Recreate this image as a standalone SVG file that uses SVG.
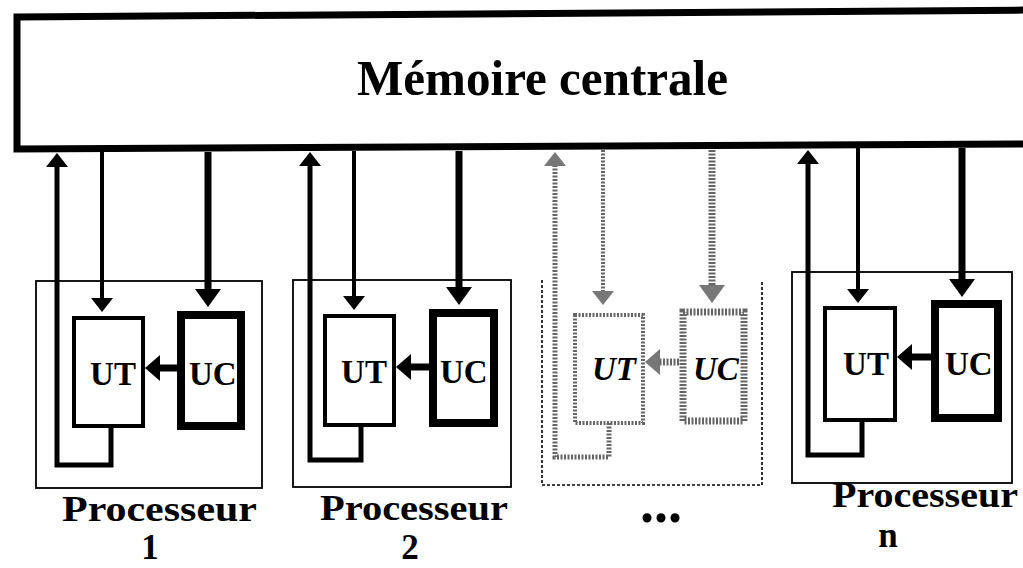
<svg xmlns="http://www.w3.org/2000/svg" width="1023" height="568" viewBox="0 0 1023 568">
<style>
.lbl{font-family:"Liberation Serif","Times New Roman",serif;font-weight:bold;fill:#000}
.unit{font-size:33px}
.proc{font-size:35px}
.outer{fill:none;stroke:#000;stroke-width:1.8}
.ut{fill:#fff;stroke:#000;stroke-width:4}
.uc{fill:#fff;stroke:#000;stroke-width:8}
.gut{fill:#fff;stroke:#666;stroke-width:4;stroke-dasharray:2 1.5}
.guc{fill:#fff;stroke:#666;stroke-width:7;stroke-dasharray:2 1.5}
.c{fill:none;stroke:#000;stroke-linejoin:miter}
.g{fill:none;stroke:#666;stroke-dasharray:2 1.5}
.w4{stroke-width:4}.w5{stroke-width:5}.w7{stroke-width:7}
</style>
<defs>
<marker id="a1" markerUnits="userSpaceOnUse" viewBox="0 0 14 22" markerWidth="14" markerHeight="22" refX="2" refY="11" orient="auto"><path d="M0,0 L14,11 L0,22 Z" fill="#000"/></marker>
<marker id="a2" markerUnits="userSpaceOnUse" viewBox="0 0 18 26" markerWidth="18" markerHeight="26" refX="2" refY="13" orient="auto"><path d="M0,0 L18,13 L0,26 Z" fill="#000"/></marker>
<marker id="a3" markerUnits="userSpaceOnUse" viewBox="0 0 15 26" markerWidth="15" markerHeight="26" refX="2" refY="13" orient="auto"><path d="M0,0 L15,13 L0,26 Z" fill="#000"/></marker>
<marker id="g1" markerUnits="userSpaceOnUse" viewBox="0 0 14 22" markerWidth="14" markerHeight="22" refX="2" refY="11" orient="auto"><path d="M0,0 L14,11 L0,22 Z" fill="#777"/></marker>
<marker id="g2" markerUnits="userSpaceOnUse" viewBox="0 0 18 26" markerWidth="18" markerHeight="26" refX="2" refY="13" orient="auto"><path d="M0,0 L18,13 L0,26 Z" fill="#777"/></marker>
<marker id="g3" markerUnits="userSpaceOnUse" viewBox="0 0 15 26" markerWidth="15" markerHeight="26" refX="2" refY="13" orient="auto"><path d="M0,0 L15,13 L0,26 Z" fill="#777"/></marker>
</defs>
<rect width="1023" height="568" fill="#fff"/>

<g id="memoire">
<path d="M17,17 L1040,10 L1040,144 L17,149 Z" fill="#fff" stroke="#000" stroke-width="7"/>
<text class="lbl" x="357" y="95" font-size="50" textLength="371" lengthAdjust="spacingAndGlyphs">Mémoire centrale</text>
</g>

<g id="processeur1">
<rect class="outer" x="36" y="281" width="226" height="207"/>
<rect class="ut" x="74" y="318" width="69" height="108"/>
<rect class="uc" x="181" y="315" width="60" height="111"/>
<text class="lbl unit" x="113" y="385" text-anchor="middle">UT</text>
<text class="lbl unit" x="189" y="385">UC</text>
<text class="lbl proc" x="62" y="521" textLength="195" lengthAdjust="spacingAndGlyphs">Processeur</text>
<text class="lbl proc" x="150" y="559" text-anchor="middle">1</text>
</g>

<g id="processeur2">
<rect class="outer" x="293" y="280" width="218" height="207"/>
<rect class="ut" x="325" y="316" width="69" height="109"/>
<rect class="uc" x="433" y="313" width="61" height="110"/>
<text class="lbl unit" x="364" y="383" text-anchor="middle">UT</text>
<text class="lbl unit" x="440" y="383">UC</text>
<text class="lbl proc" x="320" y="520" textLength="188" lengthAdjust="spacingAndGlyphs">Processeur</text>
<text class="lbl proc" x="410" y="559" text-anchor="middle">2</text>
</g>

<g id="processeur-etc">
<path d="M542,280 V485 H762 V280" fill="none" stroke="#000" stroke-width="1.6" stroke-dasharray="3 2"/>
<rect class="gut" x="575" y="315" width="68" height="108"/>
<rect class="guc" x="683" y="312" width="61" height="109"/>
<text class="lbl unit" x="614" y="380" text-anchor="middle" font-style="italic">UT</text>
<text class="lbl unit" x="693" y="380" font-style="italic">UC</text>
<text class="lbl" x="661" y="522" font-size="56" text-anchor="middle">...</text>
</g>

<g id="processeurN">
<rect class="outer" x="792" y="272" width="220" height="211"/>
<rect class="ut" x="825" y="308" width="70" height="112"/>
<rect class="uc" x="935" y="304" width="63" height="114"/>
<text class="lbl unit" x="866" y="375" text-anchor="middle">UT</text>
<text class="lbl unit" x="945" y="375">UC</text>
<text class="lbl proc" x="832" y="507" textLength="186" lengthAdjust="spacingAndGlyphs">Processeur</text>
<text class="lbl proc" x="888" y="547" text-anchor="middle">n</text>
</g>

<g id="connecteurs">
<path class="c w5" d="M111,428 V465 H57 V165" marker-end="url(#a1)"/>
<path class="c w4" d="M102,152 V300" marker-end="url(#a1)"/>
<path class="c w7" d="M208,152 V291" marker-end="url(#a2)"/>
<path class="c w7" d="M177,368 H158" marker-end="url(#a3)"/>

<path class="c w5" d="M361,425 V460 H310 V164" marker-end="url(#a1)"/>
<path class="c w4" d="M354,151 V298" marker-end="url(#a1)"/>
<path class="c w7" d="M459,151 V289" marker-end="url(#a2)"/>
<path class="c w7" d="M429,367 H409" marker-end="url(#a3)"/>

<path class="g w5" d="M609,423 V457 H555 V164" marker-end="url(#g1)"/>
<path class="g w4" d="M603,150 V293" marker-end="url(#g1)"/>
<path class="g w7" d="M712,150 V287" marker-end="url(#g2)"/>
<path class="g w7" d="M679,362 H658" marker-end="url(#g3)"/>

<path class="c w5" d="M862,420 V455 H808 V162" marker-end="url(#a1)"/>
<path class="c w4" d="M858,148 V291" marker-end="url(#a1)"/>
<path class="c w7" d="M962,148 V281" marker-end="url(#a2)"/>
<path class="c w7" d="M931,357 H910" marker-end="url(#a3)"/>
</g>
</svg>
